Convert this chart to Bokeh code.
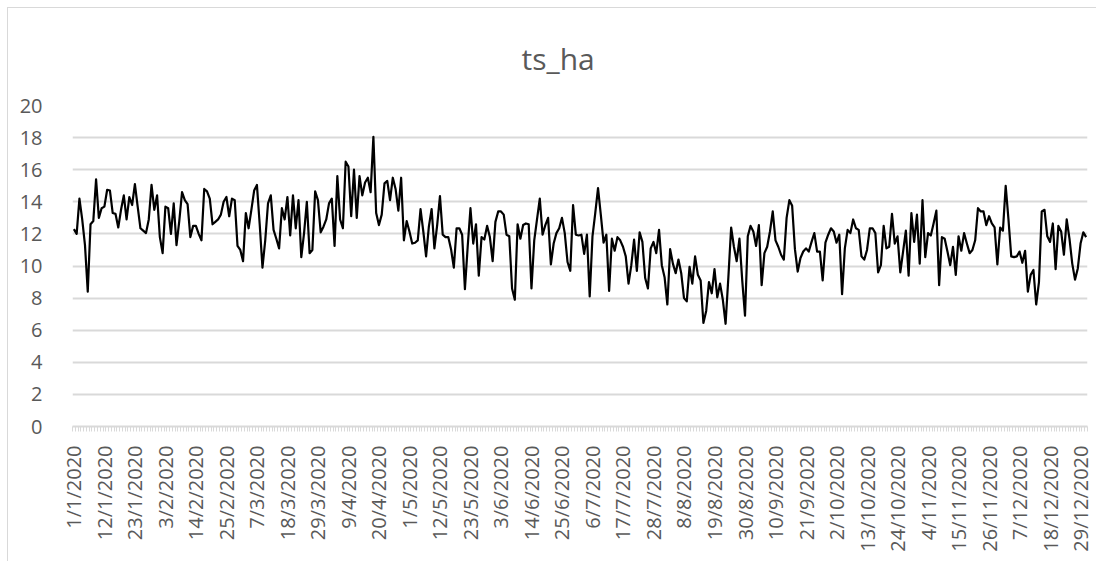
import math
from bokeh.plotting import figure
from bokeh.models import FixedTicker, Range1d, Title
from bokeh.embed import file_html
from bokeh.resources import INLINE

title_text = "ts_ha"

tick_labels = ["1/1/2020", "12/1/2020", "23/1/2020", "3/2/2020", "14/2/2020", "25/2/2020",
               "7/3/2020", "18/3/2020", "29/3/2020", "9/4/2020", "20/4/2020", "1/5/2020",
               "12/5/2020", "23/5/2020", "3/6/2020", "14/6/2020", "25/6/2020", "6/7/2020",
               "17/7/2020", "28/7/2020", "8/8/2020", "19/8/2020", "30/8/2020", "10/9/2020",
               "21/9/2020", "2/10/2020", "13/10/2020", "24/10/2020", "4/11/2020", "15/11/2020",
               "26/11/2020", "7/12/2020", "18/12/2020", "29/12/2020"]
tick_step_days = 11

y_ticks = [0, 2, 4, 6, 8, 10, 12, 14, 16, 18, 20]

# daily values, 1/1/2020 .. 31/12/2020
values = [
    12.3, 12.0, 14.2, 12.9, 11.3, 8.4, 12.6, 12.8, 15.4, 13.0,
    13.6, 13.7, 14.75, 14.7, 13.3, 13.25, 12.4, 13.5, 14.4, 12.9,
    14.3, 13.8, 15.1, 13.7, 12.35, 12.2, 12.05, 12.9, 15.05, 13.5,
    14.4, 11.8, 10.8, 13.7, 13.6, 12.0, 13.9, 11.3, 12.8, 14.6,
    14.1, 13.85, 11.8, 12.5, 12.5, 12.0, 11.6, 14.8, 14.65, 14.2,
    12.6, 12.75, 12.9, 13.2, 14.0, 14.3, 13.1, 14.2, 14.1, 11.25,
    11.0, 10.3, 13.3, 12.35, 13.5, 14.7, 15.05, 12.6, 9.9, 11.6,
    13.9, 14.4, 12.25, 11.7, 11.1, 13.6, 12.9, 14.3, 11.9, 14.4,
    12.35, 14.1, 10.55, 12.05, 14.0, 10.8, 11.0, 14.65, 14.1, 12.1,
    12.45, 12.9, 13.9, 14.2, 11.25, 15.6, 12.9, 12.35, 16.5, 16.2,
    13.1, 16.0, 13.0, 15.6, 14.4, 15.2, 15.5, 14.6, 18.05, 13.3,
    12.55, 13.2, 15.15, 15.3, 14.1, 15.5, 14.8, 13.45, 15.5, 11.6,
    12.8, 12.15, 11.4, 11.45, 11.6, 13.55, 12.15, 10.6, 12.45, 13.55,
    11.1, 12.55, 14.35, 11.95, 11.8, 11.8, 11.05, 9.9, 12.35, 12.35,
    11.95, 8.55, 11.2, 13.6, 11.4, 12.6, 9.4, 11.8, 11.65, 12.5,
    11.8, 10.3, 12.75, 13.4, 13.4, 13.2, 11.95, 11.85, 8.6, 7.9,
    12.6, 11.7, 12.55, 12.65, 12.6, 8.6, 11.6, 12.9, 14.2, 11.95,
    12.55, 13.0, 10.1, 11.4, 12.05, 12.35, 13.0, 12.05, 10.25, 9.7,
    13.8, 11.95, 11.9, 11.95, 10.75, 11.95, 8.1, 11.85, 13.3, 14.85,
    13.2, 11.45, 11.95, 8.45, 11.7, 10.95, 11.8, 11.6, 11.2, 10.6,
    8.9, 10.05, 11.65, 9.7, 12.1, 11.5, 9.25, 8.6, 11.1, 11.5,
    10.8, 12.25, 10.05, 9.3, 7.6, 11.05, 10.15, 9.55, 10.4, 9.55,
    8.0, 7.8, 9.95, 8.9, 10.6, 9.45, 9.1, 6.45, 7.2, 9.0,
    8.3, 9.8, 8.05, 8.9, 7.9, 6.4, 9.3, 12.4, 11.2, 10.3,
    11.7, 9.1, 6.9, 11.85, 12.5, 12.15, 11.25, 12.55, 8.8, 10.8,
    11.2, 12.15, 13.4, 11.6, 11.2, 10.7, 10.4, 13.0, 14.1, 13.75,
    11.05, 9.65, 10.5, 10.9, 11.1, 10.9, 11.5, 12.05, 10.9, 10.9,
    9.1, 11.45, 11.95, 12.35, 12.15, 11.45, 11.95, 8.25, 11.1, 12.25,
    12.05, 12.9, 12.35, 12.25, 10.6, 10.4, 11.0, 12.35, 12.35, 12.05,
    9.6, 10.05, 12.5, 11.1, 11.2, 13.25, 11.4, 11.85, 9.6, 10.9,
    12.2, 9.4, 13.3, 11.5, 13.2, 10.15, 14.1, 10.55, 12.05, 11.9,
    12.65, 13.45, 8.8, 11.8, 11.7, 10.9, 10.05, 11.2, 9.45, 11.85,
    10.95, 12.05, 11.4, 10.8, 11.0, 11.6, 13.6, 13.4, 13.4, 12.55,
    13.1, 12.65, 12.4, 10.1, 12.4, 12.2, 15.0, 12.9, 10.6, 10.55,
    10.6, 10.9, 10.2, 10.95, 8.4, 9.45, 9.75, 7.6, 9.0, 13.4,
    13.5, 11.85, 11.5, 12.65, 9.8, 12.5, 12.15, 10.7, 12.9, 11.7,
    10.15, 9.15, 9.85, 11.4, 12.1, 11.8,
]

n_days = len(values)
day_index = list(range(n_days))
tick_positions = [tick_step_days * k for k in range(len(tick_labels))]

TEXT = "#595959"
GRID = "#d9d9d9"
FONT = "Open Sans"

p = figure(width=1089, height=554, output_backend="svg", toolbar_location=None,
           x_range=Range1d(-0.5, n_days - 0.5), y_range=Range1d(y_ticks[0], y_ticks[-1]),
           min_border_left=64, min_border_right=10, min_border_top=97,
           min_border_bottom=136, title=None)
p.styles = {"margin-left": "7px", "margin-top": "7px",
            "border-left": "1px solid #d9d9d9", "border-top": "1px solid #d9d9d9"}
p.outline_line_color = None
p.background_fill_color = "white"
p.border_fill_color = "white"

# chart title, centred over the whole chart
p.add_layout(Title(text=title_text, align="left", offset=449, standoff=50,
                   vertical_align="top",
                   text_font=FONT, text_font_size="30px", text_font_style="normal",
                   text_color=TEXT), "above")

p.line(day_index, values, line_color="black", line_width=2.2, line_join="round")

# y axis
p.yaxis.ticker = FixedTicker(ticks=y_ticks)
p.yaxis.axis_line_color = None
p.yaxis.major_tick_line_color = None
p.yaxis.minor_tick_line_color = None
p.yaxis.major_label_standoff = 24
p.yaxis.major_label_text_font = FONT
p.yaxis.major_label_text_font_size = "20px"
p.yaxis.major_label_text_color = TEXT

p.ygrid.ticker = FixedTicker(ticks=y_ticks)
p.ygrid.grid_line_color = GRID
p.ygrid.grid_line_width = 2
p.xgrid.visible = False

# x axis
p.xaxis.ticker = FixedTicker(ticks=tick_positions,
                             minor_ticks=[i - 0.5 for i in range(n_days + 1)])
p.xaxis.major_label_overrides = {pos: lab for pos, lab in zip(tick_positions, tick_labels)}
p.xaxis.major_label_orientation = math.pi / 2
p.xaxis.axis_line_color = GRID
p.xaxis.axis_line_width = 2
p.xaxis.major_tick_line_color = None
p.xaxis.major_tick_out = 0
p.xaxis.major_tick_in = 0
p.xaxis.minor_tick_line_color = GRID
p.xaxis.minor_tick_line_width = 1
p.xaxis.minor_tick_out = 5
p.xaxis.minor_tick_in = 0
p.xaxis.major_label_standoff = 14
p.xaxis.major_label_text_font = FONT
p.xaxis.major_label_text_font_size = "20px"
p.xaxis.major_label_text_color = TEXT

open("out.html", "w").write(file_html(p, INLINE))
